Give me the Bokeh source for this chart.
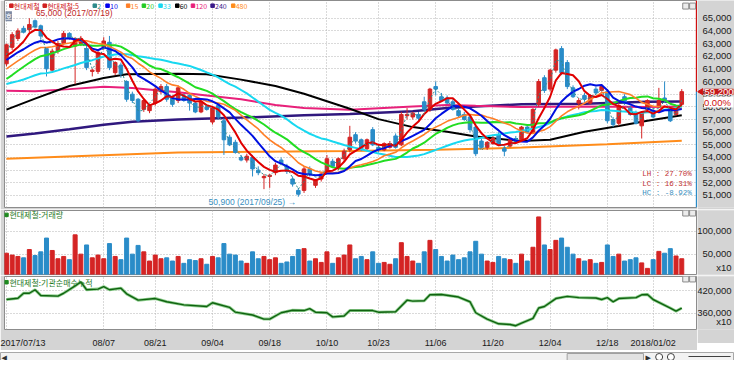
import math
import pandas as pd
from bokeh.plotting import figure
from bokeh.layouts import column, row
from bokeh.models import Range1d, FixedTicker, Label
from bokeh.core.properties import value
from bokeh.embed import file_html
from bokeh.resources import INLINE

# ---------------- data ----------------
tick_idx = [0, 17, 26, 36, 46, 56, 65, 75, 85, 95, 105, 113]
tick_labels = ["2017/07/13", "08/07", "08/21", "09/04", "09/18", "10/10",
               "10/23", "11/06", "11/20", "12/04", "12/18", "2018/01/02"]

opens = [61400,62700,63400,64200,64100,64800,64400,62600,60900,62400,
         63000,63800,62800,63000,62600,60800,60800,62700,63100,60700,
         61300,60000,59000,58600,57800,57700,58300,59200,59600,58700,
         58500,58800,58900,58300,57600,58000,56800,58100,56900,55600,
         55200,54000,53800,54000,53000,52400,52500,52800,53800,53300,
         52300,51400,51400,53100,51800,52300,52900,53700,53200,53900,
         54600,55800,55400,54700,56200,54800,54600,54800,55700,55000,
         57300,57200,57400,58400,57800,59600,58800,58700,58400,57700,
         57400,57200,56400,55300,54800,55100,55800,54700,54900,55500,
         55400,56400,56000,58200,60300,59400,60900,62600,61500,59500,
         58300,58900,58300,59400,59300,59200,57000,56700,58800,57900,
         57500,56500,57800,57700,58000,58700,57800,57400,58200]
highs = [63000,63900,64200,64400,65000,64900,64500,62700,62600,63200,
         64000,63900,63500,63600,62800,61000,62400,63500,63600,61600,
         61500,60100,59200,58700,58600,58200,59600,59800,59800,58900,
         59700,59000,59000,58400,58500,58100,58000,58300,57100,55800,
         55400,54200,54300,54200,53300,52700,52700,53600,54000,53500,
         52500,51600,53300,53300,52300,52800,54200,53900,54000,54700,
         56500,56000,55500,55500,56400,55000,55200,55300,55900,57600,
         57900,57600,57600,58800,59500,60000,59100,58900,58600,57900,
         57600,57400,56500,55500,55300,55700,56000,54900,55500,55700,
         56500,56600,57900,60200,60500,61000,62600,62800,61700,59700,
         58700,59100,59000,59600,59800,59400,57200,58300,59000,58100,
         57700,57600,58600,57900,59500,60000,58000,58000,59400]
lows = [61200,62500,63200,63800,63900,64200,63300,60400,60700,62200,
        62900,63300,59800,62800,60900,60400,60600,62500,60900,60500,
        60300,58400,58300,56800,57600,57500,58100,59000,58400,58000,
        58300,58400,57700,57500,57500,57700,56600,57000,54200,54900,
        54300,53700,53600,52500,52600,51500,51600,52600,53400,52700,
        51700,50900,51200,52500,51600,52100,52700,53200,53000,53700,
        54400,55100,54500,54500,54900,54400,54500,54700,54700,54900,
        57000,57000,56900,57600,57600,58900,58400,58200,57700,57200,
        56900,56000,54100,54700,54600,55000,54900,54100,54800,55200,
        55300,55900,55900,58000,59100,59200,60700,60500,59400,58700,
        57800,58400,58200,59000,59200,56700,56400,56500,58200,57300,
        56600,55500,57600,57100,57900,58300,56800,57300,58100]
closes = [62900,63700,64000,63900,64500,64300,63600,61000,62400,63000,
          63800,63400,63400,63400,61100,60900,62300,63200,61100,61500,
          60600,58600,58500,56900,58500,58100,59400,59600,58600,58200,
          59500,58500,58300,57600,58400,57800,57900,57200,55400,55000,
          54400,53800,54100,53100,52800,52500,52600,53400,53500,52900,
          51900,51100,53100,52700,52200,52700,53900,53300,53900,54500,
          55600,55300,54700,55400,55000,54600,55100,55100,54800,57400,
          57400,57500,57100,57800,59400,59400,58500,58300,57800,57300,
          57000,56200,54300,54800,55200,55500,55000,54500,55400,55300,
          56400,56000,57800,60000,59300,60900,62500,60700,59600,58800,
          58500,58600,58900,59100,59600,56900,56600,58100,58300,57400,
          56700,57500,58500,57200,58500,58500,56900,57900,59200]
# closes before the first visible day (estimated from where the short averages start)
pre_closes = [59800,60200,59600,59000,58700,59300,59900,59500,58800,58600,
              59100,58900,58000,57500,57200,57600,58200,58500,58900,59300,
              59600,60000,60200,60600,61000,61500,61650,62000,62300,62100,
              61650,61300]
# volume, units of x10 shares
volumes = [52000,48000,45000,42000,60000,47000,55000,85000,58000,40000,
           45000,38000,92000,50000,70000,42000,48000,40000,73000,45000,
           38000,85000,50000,69000,55000,35000,48000,40000,42000,35000,
           45000,30000,38000,36000,40000,28000,45000,42000,73000,50000,
           48000,35000,30000,55000,40000,45000,38000,42000,30000,33000,
           45000,60000,62000,35000,40000,32000,55000,30000,42000,48000,
           70000,40000,45000,38000,55000,30000,32000,28000,40000,75000,
           45000,35000,30000,55000,80000,60000,45000,35000,48000,38000,
           42000,55000,78000,50000,35000,32000,45000,40000,38000,30000,
           50000,35000,65000,131000,70000,60000,80000,85000,65000,50000,
           40000,35000,38000,30000,32000,70000,45000,50000,35000,38000,
           42000,31000,19000,38000,56000,52000,62000,46000,40000]
# long moving averages (day index, price)
ma60_idx = [0,5,11,17,21,30,35,41,47,52,58,60,65,71,77,82,90,95,101,107,112,118]
ma60_val = [57780,58650,59650,60280,60580,60620,60580,60150,59650,59030,58150,57850,
            57030,56400,56030,55650,55300,55400,56030,56480,56900,57330]
ma120_idx = [0,5,11,17,22,30,35,41,47,52,60,71,77,82,90,101,112,118]
ma120_val = [59280,59230,59400,59580,59480,59150,58900,58600,58150,57900,57780,
             58030,58150,58080,57980,58030,57980,58030]
ma240_idx = [0,5,11,17,22,30,41,52,60,71,77,82,90,101,112,118]
ma240_val = [55650,55900,56230,56580,56830,57000,57150,57330,57430,57650,57900,
             58030,58200,58250,58400,58420]
ma480_idx = [0,30,45,60,75,90,105,118]
ma480_val = [53900,54400,54450,54520,54620,54780,55050,55330]
# institutional cumulative net buying (x10)
inst_idx = [0,2,3,4,5,6,9,10,12,13,14,16,17,18,20,21,23,26,28,31,35,36,39,40,43,45,46,
            48,50,52,53,54,56,57,59,60,64,65,68,70,71,73,74,76,79,81,82,84,86,88,89,
            90,92,93,94,96,98,100,103,104,105,106,107,110,111,112,113,114,116,117,118]
inst_val = [396750,400000,413250,413250,422500,407500,405750,413250,432500,443250,
            422500,424250,430750,422500,426750,411750,395000,399250,390750,382500,
            378250,388250,375750,363250,355750,345000,345000,361750,368250,367500,
            372500,363250,361750,350750,353250,367500,367500,363250,364250,395000,
            392500,393250,409250,410000,403250,390750,361750,345000,332500,330750,
            327500,334250,346750,374250,378250,399250,405000,401750,400750,396750,
            401750,390750,399250,401750,409250,410000,396750,389250,374250,365750,
            374250]
price_ticks = list(range(51000, 65001, 1000))
vol_ticks = [50000, 100000]
inst_ticks = [360000, 420000]
last_price = 59200
last_change = "0.00%"
hi_note = "65,000 (2017/07/19)"
lo_note = "50,900 (2017/09/25)"
stats = ["LH : 27.70%", "LC : 16.31%", "HC : -8.92%"]
legend_names = ["현대제철", "현대제철:5", "2", "10", "15", "20", "33", "60", "120", "240", "480"]
legend_colors = ["#d02020", "#d02020", "#2e8b8b", "#0000ee", "#ff7f27", "#22cc22",
                 "#18d8f0", "#000000", "#e8207a", "#3a1a8a", "#ff8c1a"]

# ---------------- styling ----------------
UP, DOWN = "#d42424", "#2a8cc8"
BORDER = "#d4d4d4"
FNUM = "Liberation Sans"
FKR = "Noto Sans CJK KR"
FRAME_W = 693
SIDE_W = 37
x_rng = Range1d(-0.34, 120.75)
X_END = 120.75


def px2i(xpx):
    # layout helper: reference pixel column -> day index
    return (xpx - 7) / 5.83


def make_panel(fh, y0, y1, top, bottom, ticks, labels, grid_ticks, xaxis=False):
    yr = Range1d(y0, y1)
    p = figure(frame_width=FRAME_W, frame_height=fh, x_range=x_rng, y_range=yr,
               output_backend="svg", toolbar_location=None, y_axis_location=None,
               x_axis_location="below" if xaxis else None,
               min_border_left=4, min_border_right=0, min_border_top=top,
               min_border_bottom=bottom, background_fill_color="white",
               border_fill_color=BORDER)
    p.outline_line_color = "#8c8c8c"
    p.xgrid.ticker = FixedTicker(ticks=tick_idx)
    p.ygrid.ticker = FixedTicker(ticks=grid_ticks)
    for g in (p.xgrid, p.ygrid):
        g.grid_line_color = "#b4b4b4"
        g.grid_line_dash = "1 2"
        g.grid_line_width = 1
    # right-hand value scale (shares the panel's y range)
    s = figure(frame_width=SIDE_W, frame_height=fh, x_range=Range1d(0, SIDE_W), y_range=yr,
               output_backend="svg", toolbar_location=None, x_axis_location=None,
               y_axis_location=None, min_border_left=0, min_border_right=0,
               min_border_top=top, min_border_bottom=bottom,
               background_fill_color=BORDER, border_fill_color=BORDER)
    s.grid.visible = False
    s.outline_line_color = None
    s.text([SIDE_W - 3] * len(ticks), ticks, text=labels, text_font=value(FNUM),
           text_font_size="9.5px", text_color="#1a1a1a", text_align="right",
           text_baseline="middle")
    return p, s


# ---------------- price panel ----------------
top_ = [max(o, c) for o, c in zip(opens, closes)]
bot_ = [min(o, c) for o, c in zip(opens, closes)]
cols = [UP if c >= o else DOWN for o, c in zip(opens, closes)]
idx = list(range(len(closes)))
src = dict(x=idx, h=highs, l=lows, top=top_, bot=bot_, color=cols, vol=volumes)

s_all = pd.Series(pre_closes + closes, dtype=float)
npre = len(pre_closes)


def ma(k):
    return s_all.rolling(k).mean().iloc[npre:].tolist()


p, ps = make_panel(207, 50050, 66400, 0, 2, price_ticks,
                   [f"{t:,}" for t in price_ticks], price_ticks)

p.line(ma480_idx, ma480_val, color="#ff8c1a", line_width=2)
p.line(ma240_idx, ma240_val, color="#30187e", line_width=2.5)
p.line(ma120_idx, ma120_val, color="#e8207a", line_width=2)
p.line(ma60_idx, ma60_val, color="#000000", line_width=2)

p.segment(x0="x", y0="l", x1="x", y1="h", color="color", line_width=1, source=src)
p.vbar(x="x", top="top", bottom="bot", width=0.62, fill_color="color", line_color="color",
       line_width=1, source=src)

p.line(idx, ma(33), color="#18d8f0", line_width=2)
p.line(idx, ma(20), color="#22dd22", line_width=2)
p.line(idx, ma(15), color="#ff7f27", line_width=1.6)
p.line(idx, ma(10), color="#0010e0", line_width=2)
p.line(idx, ma(5), color="#e00000", line_width=2)
p.line(idx, ma(2), color="#2e8b8b", line_width=1, line_dash="2 2")

# right edge position bar
p.segment(x0=[X_END - 0.12], y0=[last_price], x1=[X_END - 0.12], y1=[66400], color="#d01010", line_width=2)
p.segment(x0=[X_END - 0.12], y0=[50050], x1=[X_END - 0.12], y1=[last_price], color="#2a8cc8", line_width=2)

# legend row
lx = [12, 46, 97, 110, 131, 147, 164, 181, 197, 217, 238]
p.scatter([px2i(v) for v in lx], [65990] * len(lx), marker="square", size=3.5,
          color=legend_colors)
p.text([px2i(v + 2.5) for v in lx], [65990] * len(lx), text=legend_names,
       text_color=legend_colors, text_font=value(FKR), text_font_size="7px",
       text_baseline="middle", text_align="left")
p.scatter([px2i(699), px2i(706)], [65960, 65960], marker="square", size=6,
          fill_color="#ececec", line_color="#8a8a8a")

p.add_layout(Label(x=px2i(37), y=65430, text=hi_note, text_font=FNUM, text_font_size="8.5px",
                   text_color="#c02828", text_baseline="middle"))
p.add_layout(Label(x=px2i(302), y=50490, text=lo_note + " \u2192", text_font=FNUM,
                   text_font_size="8.5px", text_color="#3a8fc0", text_baseline="middle",
                   text_align="right"))
for t, yv, c in zip(stats, [52665, 51915, 51165], ["#c03030", "#c03030", "#3a8fc0"]):
    p.add_layout(Label(x=px2i(705), y=yv, text=t, text_font="Liberation Mono", text_font_size="7.5px",
                       text_color=c, text_baseline="middle", text_align="right"))
p.add_layout(Label(x=-0.34, y=65165, x_offset=1, text="호", text_font=FKR, text_font_size="7px",
                   text_color="white", text_baseline="middle", background_fill_color="#7d8aa3"))

# current price marker in the value scale
ps.scatter([3.5], [last_price], marker="triangle", size=6, angle=math.pi / 2,
           color="#d01010")
ps.add_layout(Label(x=SIDE_W - 1, y=last_price, text=f"{last_price:,}", text_font=FNUM,
                    text_font_size="9.5px", text_color="white", text_baseline="middle",
                    text_align="right", background_fill_color="#c41a1a"))
ps.add_layout(Label(x=SIDE_W - 1, y=last_price - 820, text=" " + last_change, text_font=FNUM,
                    text_font_size="9.5px", text_color="#d01010", text_baseline="middle",
                    text_align="right", background_fill_color="white"))

# ---------------- volume panel ----------------
pv, vs = make_panel(64, 5700, 145000, 1, 1, [20500] + vol_ticks,
                    ["x10"] + [f"{t:,}" for t in vol_ticks], vol_ticks)
pv.vbar(x="x", top="vol", bottom=0, width=0.7, fill_color="color", line_color="color", source=src)
pv.scatter([px2i(7)], [135450], marker="square", size=3.5, color="#1f8a1f")
pv.text([px2i(10)], [135450], text=["현대제철:거래량"], text_color="#1f7a1f",
        text_font=value(FKR), text_font_size="8px", text_baseline="middle")
pv.scatter([px2i(699), px2i(706)], [139500, 139500], marker="square", size=6,
           fill_color="#ececec", line_color="#8a8a8a")

# ---------------- institutional panel ----------------
pi, is_ = make_panel(53, 317500, 457500, 1, 14, [339250] + inst_ticks,
                     ["x10"] + [f"{t:,}" for t in inst_ticks], inst_ticks, xaxis=True)
xa = pi.xaxis[0]
xa.ticker = FixedTicker(ticks=tick_idx)
xa.major_label_overrides = {i: t for i, t in zip(tick_idx, tick_labels)}
xa.major_label_text_align = "left"
xa.major_label_text_font = FNUM
xa.major_label_text_font_size = "9px"
xa.major_label_text_color = "#1a1a1a"
xa.major_label_standoff = 2
xa.axis_line_color = None
xa.major_tick_line_color = None
xa.minor_tick_line_color = None
pi.line(inst_idx, inst_val, color="#8fcf8f", line_width=3)
pi.line(inst_idx, inst_val, color="#0f620f", line_width=1.4)
pi.scatter([px2i(7)], [442500], marker="square", size=3.5, color="#1f8a1f")
pi.text([px2i(10)], [442500], text=["현대제철:기관순매수누적"], text_color="#1f7a1f",
        text_font=value(FKR), text_font_size="8px", text_baseline="middle")
pi.scatter([px2i(699), px2i(706)], [451000, 451000], marker="square", size=6,
           fill_color="#ececec", line_color="#8a8a8a")

# ---------------- bottom scrollbar strip ----------------
sb = figure(frame_width=734, frame_height=10, x_range=Range1d(0, 750), y_range=Range1d(0, 10),
            output_backend="svg", toolbar_location=None, x_axis_location=None,
            y_axis_location=None, min_border=0, background_fill_color="#f2f2f2",
            border_fill_color="#f2f2f2")
sb.grid.visible = False
sb.outline_line_color = "#a8a8a8"
sb.quad(left=[579], right=[657], bottom=[1], top=[9], fill_color="#e2e2e2", line_color="#a0a0a0")
sb.text([1, 659], [5, 5], text=["\u25c0", "\u25b6"], text_font=value("DejaVu Sans"),
        text_font_size="7px", text_baseline="middle", text_color="#303030")
sb.scatter([673, 685], [5.5, 5.5], marker="circle", size=7, fill_color="white", line_color="#404040")
sb.segment(x0=[703], y0=[6], x1=[746], y1=[6], color="#404040", line_width=1)

layout = column(row(p, ps), row(pv, vs), row(pi, is_), sb)
open("out.html", "w").write(file_html(layout, INLINE))
